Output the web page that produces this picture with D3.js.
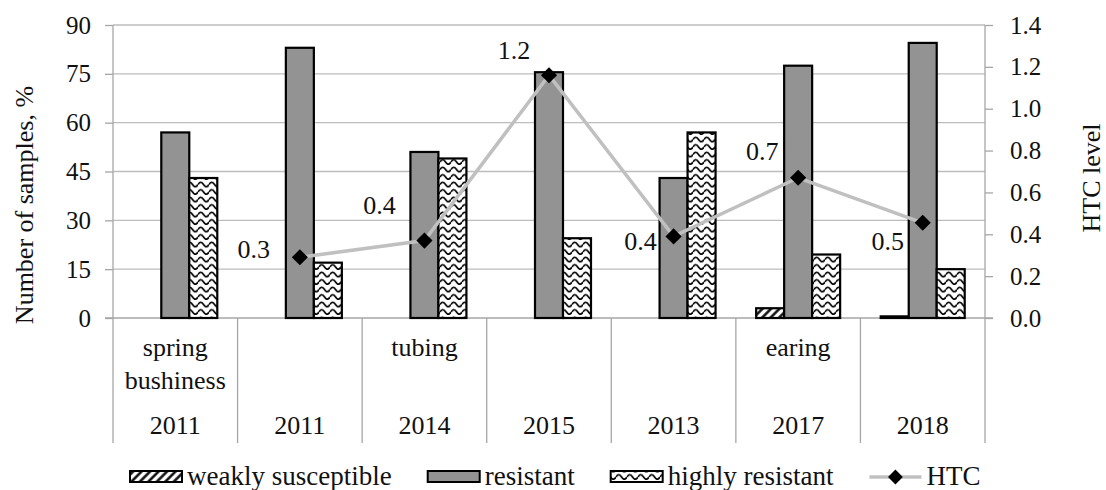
<!DOCTYPE html>
<html>
<head>
<meta charset="utf-8">
<script src="https://cdn.jsdelivr.net/npm/d3@7"></script>
<style>
  body { margin: 0; background: #fff; }
  svg { display: block; font-family: "Liberation Serif", "Times New Roman", serif; }
</style>
</head>
<body>
<div id="chart"></div>
<script>
// data
const years = ["2011", "2011", "2014", "2015", "2013", "2017", "2018"];
const stages = [["spring", "bushiness"], [], ["tubing"], [], [], ["earing"], []];
const weakly = [0, 0, 0, 0, 0, 3, 0.5];
const resistant = [57, 83, 51, 75.5, 43, 77.5, 84.5];
const highly = [43, 17, 49, 24.5, 57, 19.5, 15];
const htc = [null, 0.29, 0.37, 1.16, 0.39, 0.67, 0.455];
const leftTicks = [0, 15, 30, 45, 60, 75, 90];
const rightTicks = [0, 0.2, 0.4, 0.6, 0.8, 1.0, 1.2, 1.4];
const seriesNames = ["weakly susceptible", "resistant", "highly resistant"];

// label placement next to each HTC marker (px)
const labelDx = [0, -46, -45, -35, -33, -36, -35];
const labelDy = [0, -8, -36, -25, 5, -27, 18];

const width = 1106, height = 490;
const plotLeft = 113, plotRight = 985, plotTop = 25, plotBottom = 318;
const gray = "#a6a6a6";

const svg = d3.select("#chart").append("svg")
  .attr("width", width)
  .attr("height", height);

svg.append("rect").attr("width", width).attr("height", height).attr("fill", "#fff");

// fill patterns
const defs = svg.append("defs");
const hatch = defs.append("pattern")
  .attr("id", "hatch")
  .attr("patternUnits", "userSpaceOnUse")
  .attr("width", 6).attr("height", 6)
  .attr("patternTransform", "rotate(45)");
hatch.append("rect").attr("width", 6).attr("height", 6).attr("fill", "#fff");
hatch.append("line").attr("x1", 1.5).attr("x2", 1.5).attr("y1", 0).attr("y2", 6)
  .attr("stroke", "#000").attr("stroke-width", 2.4);

const wave = defs.append("pattern")
  .attr("id", "wave")
  .attr("patternUnits", "userSpaceOnUse")
  .attr("width", 11).attr("height", 7.5);
wave.append("rect").attr("width", 11).attr("height", 7.5).attr("fill", "#fff");
wave.append("path")
  .attr("d", "M0,4.5 Q2.75,0 5.5,4.5 T11,4.5")
  .attr("fill", "none").attr("stroke", "#000").attr("stroke-width", 1.7);

const fills = ["url(#hatch)", "#939393", "url(#wave)"];

const x = d3.scaleBand().domain(d3.range(years.length)).range([plotLeft, plotRight]);
const xs = d3.scaleBand().domain(d3.range(3)).range([0, x.bandwidth()]).paddingOuter(0.725);
const y = d3.scaleLinear().domain([0, 90]).range([plotBottom, plotTop]);
const yR = d3.scaleLinear().domain([0, 1.4]).range([plotBottom, plotTop]);

// gridlines
svg.append("g")
  .selectAll("line")
  .data(leftTicks.slice(1))
  .join("line")
  .attr("x1", plotLeft).attr("x2", plotRight)
  .attr("y1", d => y(d)).attr("y2", d => y(d))
  .attr("stroke", "#bdbdbd").attr("stroke-width", 1.3);

// left axis
const axL = svg.append("g")
  .attr("transform", `translate(${plotLeft},0)`)
  .call(d3.axisLeft(y).tickValues(leftTicks).tickSize(8).tickPadding(14));
// right axis
const axR = svg.append("g")
  .attr("transform", `translate(${plotRight},0)`)
  .call(d3.axisRight(yR).tickValues(rightTicks).tickSize(8).tickPadding(17).tickFormat(d3.format(".1f")));

[axL, axR].forEach(ax => {
  ax.attr("font-family", null);
  ax.select(".domain").remove();
  ax.selectAll(".tick line").attr("stroke", gray).attr("stroke-width", 1.3);
  ax.selectAll(".tick text")
    .attr("font-size", 25)
    .attr("fill", "#111");
});

// category axis lines
svg.append("line")
  .attr("x1", plotLeft - 8).attr("x2", plotRight + 8)
  .attr("y1", plotBottom).attr("y2", plotBottom)
  .attr("stroke", gray).attr("stroke-width", 1.3);

const bounds = d3.range(years.length + 1).map(i => i < years.length ? x(i) : x(i - 1) + x.bandwidth());
svg.append("g")
  .selectAll("line")
  .data(bounds)
  .join("line")
  .attr("x1", d => d).attr("x2", d => d)
  .attr("y1", (d, i) => (i === 0 || i === years.length) ? plotTop : plotBottom)
  .attr("y2", 443)
  .attr("stroke", gray).attr("stroke-width", 1.3);

// bars
const barData = [];
[weakly, resistant, highly].forEach((arr, s) => {
  arr.forEach((v, i) => { if (v > 0) barData.push({ i, s, v }); });
});

svg.append("g")
  .selectAll("rect")
  .data(barData)
  .join("rect")
  .attr("x", d => x(d.i) + xs(d.s))
  .attr("y", d => y(d.v))
  .attr("width", xs.bandwidth())
  .attr("height", d => y(0) - y(d.v))
  .attr("fill", d => fills[d.s])
  .attr("stroke", "#000")
  .attr("stroke-width", 2.2);

// HTC line
const cx = i => x(i) + x.bandwidth() / 2;
const line = d3.line()
  .defined(d => d != null)
  .x((d, i) => cx(i))
  .y(d => yR(d));

svg.append("path")
  .datum(htc)
  .attr("d", line)
  .attr("fill", "none")
  .attr("stroke", "#c0c0c0")
  .attr("stroke-width", 3.5);

const pts = htc.map((v, i) => ({ v, i })).filter(d => d.v != null);

svg.append("g")
  .selectAll("path")
  .data(pts)
  .join("path")
  .attr("d", d3.symbol().type(d3.symbolSquare).size(130))
  .attr("transform", d => `translate(${cx(d.i)},${yR(d.v)}) rotate(45)`)
  .attr("fill", "#000");

svg.append("g")
  .attr("font-size", 26)
  .attr("text-anchor", "middle")
  .attr("fill", "#111")
  .selectAll("text")
  .data(pts)
  .join("text")
  .attr("x", d => cx(d.i) + labelDx[d.i])
  .attr("y", d => yR(d.v) + labelDy[d.i])
  .attr("dy", "0.35em")
  .text(d => d3.format(".1f")(d.v));

// category labels
const cat = svg.append("g")
  .attr("font-size", 26)
  .attr("text-anchor", "middle")
  .attr("fill", "#111");

cat.selectAll("text.year")
  .data(years)
  .join("text")
  .attr("class", "year")
  .attr("x", (d, i) => cx(i))
  .attr("y", 434)
  .text(d => d);

stages.forEach((lines, i) => {
  lines.forEach((t, k) => {
    cat.append("text")
      .attr("x", cx(i))
      .attr("y", 356 + k * 33)
      .text(t);
  });
});

// axis titles
svg.append("text")
  .attr("transform", "translate(33,205) rotate(-90)")
  .attr("text-anchor", "middle")
  .attr("font-size", 26)
  .attr("fill", "#111")
  .text("Number of samples, %");

svg.append("text")
  .attr("transform", "translate(1100,178) rotate(-90)")
  .attr("text-anchor", "middle")
  .attr("font-size", 26)
  .attr("fill", "#111")
  .text("HTC level");

// legend
const legend = svg.append("g").attr("font-size", 27).attr("fill", "#111");
let lx = 130;
const legendItems = seriesNames.concat(["HTC"]);
legendItems.forEach((name, k) => {
  if (k < 3) {
    legend.append("rect")
      .attr("x", lx).attr("y", 471)
      .attr("width", 52).attr("height", 11)
      .attr("fill", fills[k])
      .attr("stroke", "#000").attr("stroke-width", 2);
  } else {
    legend.append("line")
      .attr("x1", lx).attr("x2", lx + 52)
      .attr("y1", 477).attr("y2", 477)
      .attr("stroke", "#c0c0c0").attr("stroke-width", 3.5);
    legend.append("path")
      .attr("d", d3.symbol().type(d3.symbolSquare).size(110))
      .attr("transform", `translate(${lx + 26},477) rotate(45)`)
      .attr("fill", "#000");
  }
  const t = legend.append("text")
    .attr("x", lx + 57)
    .attr("y", 485)
    .text(name);
  lx += 57 + t.node().getComputedTextLength() + 36;
});
</script>
</body>
</html>
